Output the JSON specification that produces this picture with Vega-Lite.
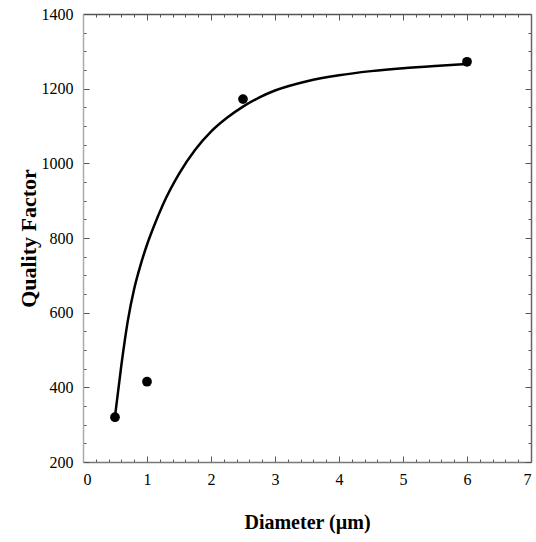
{
  "$schema": "https://vega.github.io/schema/vega-lite/v6.json",
  "width": 448,
  "height": 448,
  "autosize": {"type": "none"},
  "padding": {"left": 83, "top": 14, "right": 5, "bottom": 80},
  "background": "white",
  "config": {
    "view": {"stroke": null},
    "axis": {
      "grid": false,
      "labelFont": "Liberation Serif",
      "labelFontSize": 16,
      "labelColor": "black",
      "titleFont": "Liberation Serif",
      "titleFontWeight": "bold",
      "titleColor": "black",
      "tickColor": "#555555",
      "tickWidth": 1,
      "domainWidth": 1.5,
      "labelOverlap": false
    }
  },
  "datasets": {
    "points": [
      {"d": 0.5, "q": 320},
      {"d": 1.0, "q": 415},
      {"d": 2.5, "q": 1172},
      {"d": 6.0, "q": 1272}
    ],
    "curve": [
      {"d": 0.5, "q": 322},
      {"d": 0.6, "q": 460},
      {"d": 0.7, "q": 578},
      {"d": 0.8, "q": 664},
      {"d": 0.9, "q": 728},
      {"d": 1.0, "q": 782},
      {"d": 1.1, "q": 828},
      {"d": 1.25, "q": 890},
      {"d": 1.5, "q": 972},
      {"d": 1.75, "q": 1036},
      {"d": 2.0, "q": 1085},
      {"d": 2.25, "q": 1122},
      {"d": 2.5, "q": 1152},
      {"d": 2.75, "q": 1176},
      {"d": 3.0, "q": 1195},
      {"d": 3.5, "q": 1220},
      {"d": 4.0, "q": 1236},
      {"d": 4.5, "q": 1247},
      {"d": 5.0, "q": 1255},
      {"d": 5.5, "q": 1261},
      {"d": 6.0, "q": 1266}
    ]
  },
  "layer": [
    {
      "data": {"name": "curve"},
      "mark": {"type": "line", "color": "black", "strokeWidth": 2.5, "interpolate": "monotone"},
      "encoding": {
        "x": {
          "field": "d", "type": "quantitative",
          "scale": {"domain": [0, 7], "nice": false, "zero": false},
          "axis": {
            "orient": "top", "title": null, "labels": false,
            "values": [0,0.2,0.4,0.6,0.8,1,1.2,1.4,1.6,1.8,2,2.2,2.4,2.6,2.8,3,3.2,3.4,3.6,3.8,4,4.2,4.4,4.6,4.8,5,5.2,5.4,5.6,5.8,6,6.2,6.4,6.6,6.8,7],
            "tickSize": {"condition": {"test": "abs(datum.value - round(datum.value)) < 0.001", "value": -6}, "value": -3},
            "domainColor": "#555555"
          }
        },
        "y": {
          "field": "q", "type": "quantitative",
          "scale": {"domain": [200, 1400], "nice": false, "zero": false},
          "axis": {
            "orient": "right", "title": null, "labels": false,
            "values": [200,250,300,350,400,450,500,550,600,650,700,750,800,850,900,950,1000,1050,1100,1150,1200,1250,1300,1350,1400],
            "tickSize": {"condition": {"test": "datum.value % 200 === 0", "value": -6}, "value": -3},
            "domainColor": "#666666"
          }
        }
      }
    },
    {
      "data": {"name": "points"},
      "mark": {"type": "circle", "color": "black", "size": 95, "opacity": 1},
      "encoding": {
        "x": {
          "field": "d", "type": "quantitative",
          "scale": {"domain": [0, 7], "nice": false, "zero": false},
          "axis": {
            "orient": "bottom", "title": "Diameter (µm)",
            "titleFontSize": 20,
            "values": [0,0.2,0.4,0.6,0.8,1,1.2,1.4,1.6,1.8,2,2.2,2.4,2.6,2.8,3,3.2,3.4,3.6,3.8,4,4.2,4.4,4.6,4.8,5,5.2,5.4,5.6,5.8,6,6.2,6.4,6.6,6.8,7],
            "labelExpr": "abs(datum.value - round(datum.value)) < 0.001 ? format(datum.value, 'd') : ''",
            "tickSize": {"condition": {"test": "abs(datum.value - round(datum.value)) < 0.001", "value": -6}, "value": -3},
            "labelPadding": 15,
            "domainColor": "#777777",
            "titleX": 224, "titleY": 60, "titleBaseline": "middle", "titleAlign": "center"
          }
        },
        "y": {
          "field": "q", "type": "quantitative",
          "scale": {"domain": [200, 1400], "nice": false, "zero": false},
          "axis": {
            "orient": "left", "title": "Quality Factor",
            "titleFontSize": 22,
            "values": [200,250,300,350,400,450,500,550,600,650,700,750,800,850,900,950,1000,1050,1100,1150,1200,1250,1300,1350,1400],
            "labelExpr": "datum.value % 200 === 0 ? format(datum.value, 'd') : ''",
            "tickSize": {"condition": {"test": "datum.value % 200 === 0", "value": -6}, "value": -3},
            "labelPadding": 16,
            "domainColor": "#aaaaaa",
            "titleX": -55, "titleY": 224, "titleBaseline": "middle", "titleAlign": "center", "titleAngle": -90
          }
        }
      }
    }
  ],
  "resolve": {"axis": {"x": "independent", "y": "independent"}}
}
